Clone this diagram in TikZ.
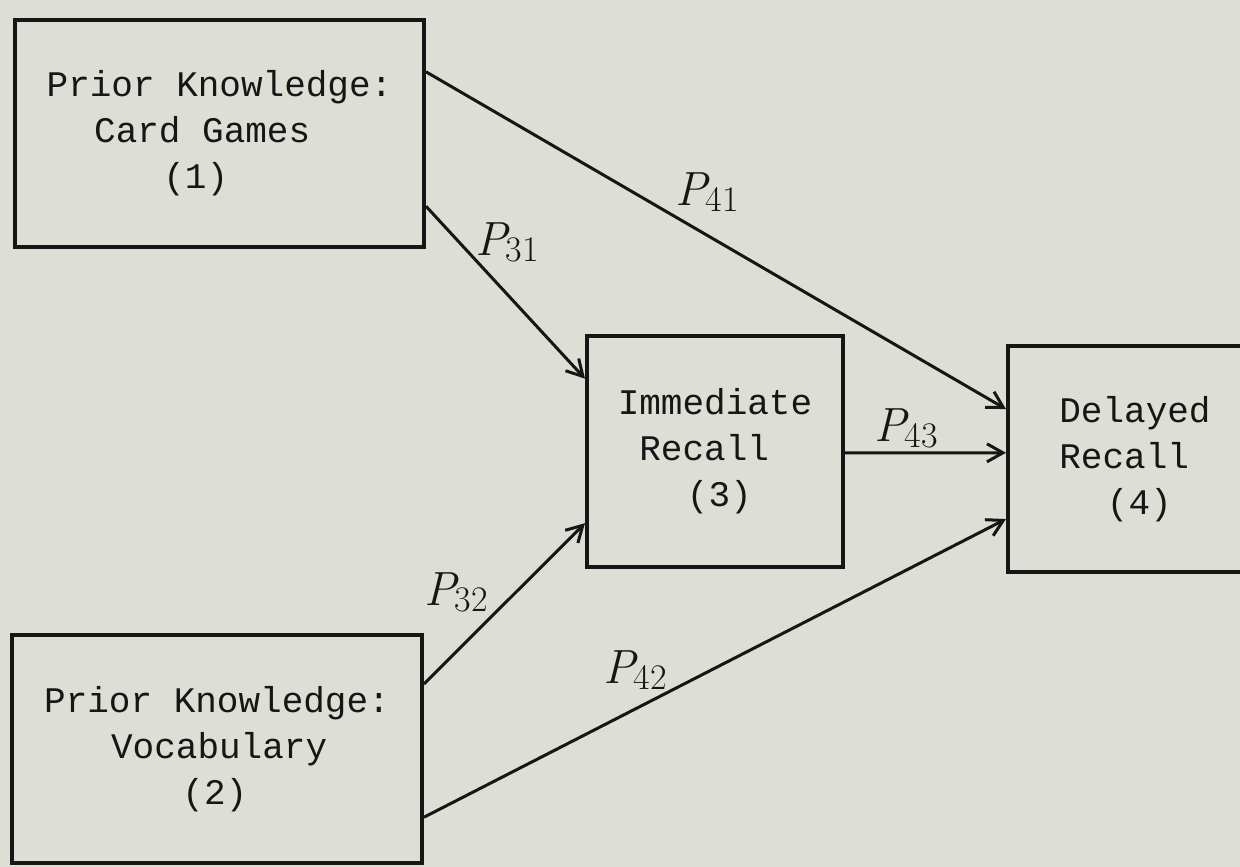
\documentclass[tikz,border=0pt]{standalone}
\usepackage{fontspec}
\setmonofont{Liberation Mono}
\usetikzlibrary{calc,arrows.meta}
\definecolor{paper}{HTML}{DDDED6}
\definecolor{ink}{HTML}{161616}
% indent a typed line by a number of em
\newcommand{\lineshift}[1]{\hspace*{#1em}}
% a path coefficient: P with a two-digit subscript
\newcommand{\pcoef}[1]{{\itshape P}\kern-1pt\raisebox{-6pt}{\fontsize{36}{36}\selectfont #1}}
\begin{document}
\begin{tikzpicture}[x=1pt,y=-1pt,
  varbox/.style={draw=ink, line width=4pt, rectangle, inner sep=0pt,
    align=left, text=ink, font=\ttfamily\fontsize{36}{46}\selectfont},
  effect/.style={draw=ink, line width=3pt,
    -{Straight Barb[length=16pt,width=18pt,line width=3pt]}},
  coef/.style={text=ink, inner sep=0pt, font=\fontsize{48}{48}\selectfont}]
\fill[paper] (0,0) rectangle (1240,867);
\useasboundingbox (0,0) rectangle (1240,867);

% variables
\node[varbox, minimum width=409pt, minimum height=227pt] (b1) at (219.5,133.5)
  {Prior Knowledge:\\\lineshift{1.32}Card Games\\\lineshift{3.24}(1)};
\node[varbox, minimum width=410pt, minimum height=228pt] (b2) at (217,749)
  {Prior Knowledge:\\\lineshift{1.86}Vocabulary\\\lineshift{3.84}(2)};
\node[varbox, minimum width=256pt, minimum height=231pt] (b3) at (715,451.5)
  {Immediate\\\lineshift{0.6}Recall\\\lineshift{1.92}(3)};
\node[varbox, minimum width=254pt, minimum height=226pt] (b4) at (1135,459)
  {Delayed\\Recall\\\lineshift{1.32}(4)};

% causal paths
\draw[effect] ($(b1.north east)!0.233!(b1.south east)$) -- ($(b4.north west)!0.283!(b4.south west)$);
\draw[effect] ($(b1.north east)!0.815!(b1.south east)$) -- ($(b3.north west)!0.19!(b3.south west)$);
\draw[effect] ($(b3.north east)!0.506!(b3.south east)$) -- ($(b4.north west)!0.473!(b4.south west)$);
\draw[effect] ($(b2.north east)!0.22!(b2.south east)$) -- ($(b3.north west)!0.805!(b3.south west)$);
\draw[effect] ($(b2.north east)!0.794!(b2.south east)$) -- ($(b4.north west)!0.761!(b4.south west)$);

% path coefficients
\node[coef] (p41) at (707,192) {\pcoef{41}};
\node[coef] (p31) at (507,242) {\pcoef{31}};
\node[coef] (p43) at (906,428) {\pcoef{43}};
\node[coef] (p32) at (456,592) {\pcoef{32}};
\node[coef] (p42) at (635,670) {\pcoef{42}};
\end{tikzpicture}
\end{document}
